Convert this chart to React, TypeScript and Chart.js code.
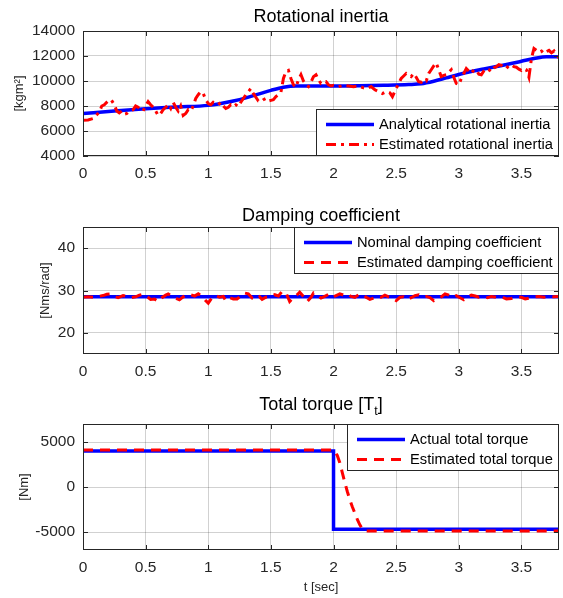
import React, { useEffect, useRef } from "react";
import { Chart, registerables } from "chart.js";

Chart.register(...registerables);

const FONT = "'Liberation Sans', Arial, Helvetica, sans-serif";
const TEXT = "#262626";
const GRID = "rgba(0,0,0,0.18)";
const BLUE = "#0000ff";
const RED = "#ff0000";

// ---- tick labels ----
const xTicks = [0, 0.5, 1, 1.5, 2, 2.5, 3, 3.5];
const inertiaTicks = [4000, 6000, 8000, 10000, 12000, 14000];
const dampingTicks = [20, 30, 40];
const torqueTicks = [-5000, 0, 5000];

// ---- Rotational inertia ----
const inertiaAnalyticalT = [0, 0.25, 0.5, 0.75, 1.0, 1.1, 1.2, 1.3, 1.4, 1.5, 1.6, 1.7, 1.8, 2.0, 2.2, 2.4, 2.6, 2.7, 2.8, 2.9, 3.0, 3.1, 3.2, 3.3, 3.4, 3.5, 3.6, 3.7, 3.8];
const inertiaAnalyticalV = [7400, 7600, 7780, 7920, 8050, 8200, 8400, 8650, 8950, 9250, 9500, 9600, 9600, 9600, 9620, 9660, 9720, 9780, 9980, 10250, 10520, 10760, 10960, 11160, 11360, 11580, 11800, 11950, 11950];

const inertiaEstT = [0.00, 0.04, 0.08, 0.11, 0.13, 0.15, 0.17, 0.20, 0.225, 0.25, 0.27, 0.29, 0.31, 0.33, 0.35, 0.37, 0.40, 0.42, 0.44, 0.46, 0.48, 0.50, 0.52, 0.54, 0.56, 0.58, 0.60, 0.62, 0.64, 0.66, 0.68, 0.70, 0.72, 0.74, 0.76, 0.78, 0.80, 0.82, 0.84, 0.86, 0.88, 0.90, 0.92, 0.94, 0.96, 0.98, 1.00, 1.02, 1.04, 1.06, 1.08, 1.10, 1.12, 1.14, 1.16, 1.18, 1.20, 1.22, 1.24, 1.26, 1.28, 1.30, 1.32, 1.34, 1.36, 1.38, 1.40, 1.42, 1.44, 1.46, 1.48, 1.50, 1.52, 1.54, 1.56, 1.58, 1.60, 1.62, 1.64, 1.66, 1.68, 1.70, 1.72, 1.74, 1.76, 1.78, 1.80, 1.82, 1.84, 1.86, 1.88, 1.90, 1.92, 1.94, 1.96, 1.98, 2.00, 2.04, 2.08, 2.12, 2.16, 2.20, 2.24, 2.27, 2.30, 2.33, 2.36, 2.39, 2.42, 2.45, 2.47, 2.50, 2.52, 2.54, 2.56, 2.58, 2.60, 2.62, 2.64, 2.66, 2.68, 2.70, 2.72, 2.74, 2.76, 2.78, 2.80, 2.82, 2.84, 2.86, 2.88, 2.90, 2.92, 2.94, 2.96, 2.98, 3.00, 3.02, 3.04, 3.06, 3.08, 3.10, 3.12, 3.14, 3.16, 3.18, 3.20, 3.22, 3.24, 3.26, 3.28, 3.30, 3.32, 3.34, 3.36, 3.38, 3.40, 3.42, 3.44, 3.46, 3.48, 3.50, 3.52, 3.54, 3.56, 3.58, 3.60, 3.62, 3.64, 3.66, 3.68, 3.70, 3.72, 3.74, 3.76, 3.78, 3.80];
const inertiaEstV = [6850, 6880, 7000, 7300, 7500, 8000, 8100, 8400, 8500, 8100, 7600, 7450, 7600, 7350, 7400, 7600, 7700, 8000, 7900, 7700, 7600, 8000, 8350, 8100, 7900, 7600, 7250, 7400, 7700, 7900, 8100, 7800, 8300, 7900, 7600, 8000, 7250, 7400, 7700, 7600, 8000, 8600, 8900, 9150, 9000, 8500, 8200, 8100, 8300, 8250, 8100, 8300, 8000, 7800, 7900, 8100, 7950, 8100, 7950, 8300, 8600, 8900, 9150, 9400, 9000, 8700, 8400, 8350, 8500, 8600, 8400, 8450, 8500, 8750, 8900, 9100, 10200, 10750, 10850, 10200, 9700, 9500, 10100, 10500, 10000, 9700, 9550, 9900, 10350, 10500, 10100, 9800, 9900, 9950, 9700, 9600, 9650, 9550, 9650, 9600, 9550, 9600, 9450, 9400, 9550, 9300, 9150, 9000, 9150, 9050, 8750, 9400, 9800, 10200, 10400, 10600, 10450, 10350, 10600, 10300, 9950, 9900, 10100, 10000, 10600, 10900, 11200, 11450, 10900, 10350, 10450, 10500, 10700, 10900, 10300, 9800, 9700, 10200, 10600, 11000, 10800, 10600, 10900, 10850, 10550, 10500, 10800, 11000, 10900, 10750, 11050, 11150, 11300, 11250, 11100, 11000, 11250, 11300, 11150, 11100, 10950, 10850, 11000, 10900, 10300, 11800, 12600, 12450, 12300, 12400, 12200, 12350, 12450, 12250, 12400, 12100, 11850];

// ---- Damping coefficient ----
const dampingNominalT = [0, 3.8];
const dampingNominalV = [28.5, 28.5];
const dampingEstT = [0.00, 0.04, 0.08, 0.12, 0.16, 0.19, 0.22, 0.25, 0.28, 0.32, 0.35, 0.38, 0.42, 0.45, 0.48, 0.51, 0.54, 0.57, 0.60, 0.63, 0.66, 0.68, 0.71, 0.74, 0.77, 0.80, 0.83, 0.86, 0.89, 0.92, 0.95, 0.98, 1.00, 1.03, 1.06, 1.09, 1.12, 1.14, 1.17, 1.20, 1.23, 1.26, 1.29, 1.32, 1.35, 1.38, 1.41, 1.43, 1.46, 1.50, 1.53, 1.56, 1.59, 1.62, 1.65, 1.68, 1.71, 1.73, 1.76, 1.79, 1.82, 1.84, 1.87, 1.90, 1.93, 1.96, 1.99, 2.02, 2.05, 2.08, 2.11, 2.14, 2.17, 2.20, 2.23, 2.26, 2.29, 2.32, 2.35, 2.38, 2.41, 2.44, 2.47, 2.50, 2.53, 2.56, 2.59, 2.62, 2.65, 2.68, 2.71, 2.74, 2.77, 2.80, 2.83, 2.86, 2.89, 2.92, 2.95, 2.98, 3.01, 3.04, 3.07, 3.10, 3.13, 3.16, 3.20, 3.23, 3.26, 3.30, 3.34, 3.38, 3.42, 3.46, 3.50, 3.53, 3.56, 3.60, 3.64, 3.68, 3.72, 3.76, 3.80];
const dampingEstV = [28.4, 28.5, 28.4, 28.6, 28.8, 29.1, 29.2, 28.6, 28.3, 28.8, 28.6, 28.3, 28.5, 28.9, 29.1, 28.6, 27.9, 28.0, 27.4, 28.3, 28.9, 29.2, 28.6, 28.2, 27.8, 28.5, 29.0, 29.0, 28.7, 29.2, 28.6, 27.6, 27.0, 28.3, 28.8, 28.4, 28.6, 27.6, 28.3, 28.0, 28.0, 28.7, 29.4, 29.2, 28.2, 27.8, 28.5, 27.9, 28.4, 28.6, 29.0, 28.7, 29.8, 29.5, 27.4, 28.3, 29.0, 29.6, 28.6, 27.4, 28.4, 29.4, 28.8, 28.2, 28.6, 29.1, 28.4, 28.8, 29.2, 28.9, 29.2, 28.6, 28.4, 29.0, 29.1, 28.4, 27.9, 28.2, 28.6, 28.4, 28.9, 28.5, 28.2, 27.6, 28.4, 28.5, 27.9, 28.3, 28.8, 29.0, 28.5, 28.6, 28.3, 27.6, 28.1, 28.5, 29.2, 28.9, 28.4, 28.8, 28.3, 27.8, 28.5, 28.9, 28.7, 28.4, 28.5, 28.3, 28.6, 28.4, 28.5, 28.0, 28.1, 28.5, 28.4, 28.0, 28.2, 28.5, 28.6, 28.4, 28.6, 28.5, 28.6];

// ---- Total torque ----
const torqueActualT = [0, 2.0, 2.0, 3.8];
const torqueActualV = [4000, 4000, -4700, -4700];
const torqueEstT = [0, 2.0, 2.01, 2.03, 2.05, 2.07, 2.09, 2.11, 2.13, 2.15, 2.17, 2.19, 2.21, 2.23, 2.25, 2.27, 3.8];
const torqueEstV = [4100, 4100, 3950, 3500, 2700, 1600, 500, -500, -1400, -2200, -2900, -3600, -4200, -4650, -4880, -4900, -4900];

const zip = (t: number[], v: number[]) => t.map((x, i) => ({ x, y: v[i] }));

type Seg = { text: string; sub?: boolean };
interface PanelCfg {
  title: Seg[];
  titleBaseline: number;
  legendPos: "top" | "bottom";
}

function makePlugin(p: PanelCfg) {
  return {
    id: "subplotDecor",
    afterDatasetsDraw(chart: any) {
      const { ctx, chartArea: a } = chart;
      const xs = chart.scales.x;
      const ys = chart.scales.y;
      ctx.save();
      // inward ticks
      ctx.strokeStyle = TEXT;
      ctx.lineWidth = 1;
      ctx.setLineDash([]);
      ctx.beginPath();
      xs.ticks.forEach((t: any) => {
        const px = Math.round(xs.getPixelForValue(t.value)) + 0.5;
        ctx.moveTo(px, a.bottom);
        ctx.lineTo(px, a.bottom - 5);
        ctx.moveTo(px, a.top);
        ctx.lineTo(px, a.top + 5);
      });
      ys.ticks.forEach((t: any) => {
        const py = Math.round(ys.getPixelForValue(t.value)) + 0.5;
        ctx.moveTo(a.left, py);
        ctx.lineTo(a.left + 5, py);
        ctx.moveTo(a.right, py);
        ctx.lineTo(a.right - 5, py);
      });
      ctx.stroke();
      // frame
      ctx.strokeRect(a.left + 0.5, a.top + 0.5, a.right - a.left - 1, a.bottom - a.top - 1);

      // legend
      const items = chart.data.datasets.map((d: any) => ({
        label: d.label as string,
        color: d.borderColor as string,
        width: d.borderWidth as number,
        dash: (d.borderDash || []) as number[],
      }));
      ctx.font = `14.7px ${FONT}`;
      const maxW = Math.max(...items.map((i: any) => ctx.measureText(i.label).width));
      const w = Math.round(10 + 48 + 5 + maxW + 6);
      const h = 47;
      const left = a.right - w;
      const top = p.legendPos === "top" ? a.top : a.bottom - h;
      ctx.fillStyle = "#ffffff";
      ctx.fillRect(left, top, w, h);
      ctx.strokeStyle = TEXT;
      ctx.lineWidth = 1;
      ctx.strokeRect(left + 0.5, top + 0.5, w - 1, h - 1);
      items.forEach((it: any, i: number) => {
        const y = top + 15.5 + i * 20;
        ctx.beginPath();
        ctx.setLineDash(it.dash);
        ctx.strokeStyle = it.color;
        ctx.lineWidth = it.width;
        ctx.lineCap = "butt";
        ctx.moveTo(left + 10, y);
        ctx.lineTo(left + 58, y);
        ctx.stroke();
        ctx.setLineDash([]);
        ctx.fillStyle = "#000000";
        ctx.textBaseline = "middle";
        ctx.textAlign = "left";
        ctx.font = `14.7px ${FONT}`;
        ctx.fillText(it.label, left + 63, y + 0.5);
      });
      ctx.restore();
    },
    afterDraw(chart: any) {
      const { ctx, chartArea: a } = chart;
      ctx.save();
      ctx.fillStyle = "#000000";
      ctx.textBaseline = "alphabetic";
      ctx.textAlign = "left";
      const fontFor = (s: Seg) => `${s.sub ? 12.5 : 18}px ${FONT}`;
      let total = 0;
      const widths = p.title.map((s) => {
        ctx.font = fontFor(s);
        const wv = ctx.measureText(s.text).width;
        total += wv;
        return wv;
      });
      let x = (a.left + a.right) / 2 - total / 2;
      p.title.forEach((s, i) => {
        ctx.font = fontFor(s);
        ctx.fillText(s.text, x, p.titleBaseline + (s.sub ? 5 : 0));
        x += widths[i];
      });
      ctx.restore();
    },
  };
}

interface AxisCfg {
  yMin: number;
  yMax: number;
  yTicks: number[];
  yTitle: string;
  yTitleCenter: number;
  padTop: number;
  xHeight: number;
  xTitle?: string;
}

function makeConfig(datasets: any[], ax: AxisCfg, panel: PanelCfg): any {
  const tickFont = { family: FONT, size: 15.5 };
  return {
    type: "line",
    data: { datasets },
    options: {
      responsive: false,
      animation: false,
      devicePixelRatio: 1,
      events: [],
      layout: { padding: { top: ax.padTop, right: 4, left: 0, bottom: 0 } },
      plugins: {
        legend: { display: false },
        tooltip: { enabled: false },
        title: { display: false },
      },
      elements: { point: { radius: 0 } },
      scales: {
        x: {
          type: "linear",
          min: 0,
          max: 3.8,
          afterBuildTicks: (s: any) => {
            s.ticks = xTicks.map((v) => ({ value: v }));
          },
          afterFit: (s: any) => {
            s.height = ax.xHeight;
          },
          grid: { color: GRID, lineWidth: 1, drawTicks: false },
          border: { display: false },
          ticks: {
            color: TEXT,
            font: tickFont,
            padding: 8,
            maxRotation: 0,
            autoSkip: false,
            callback: (v: any) => String(v),
          },
          title: ax.xTitle
            ? {
                display: true,
                text: ax.xTitle,
                color: TEXT,
                font: { family: FONT, size: 13 },
                padding: { top: 0, bottom: 2.5 },
              }
            : { display: false },
        },
        y: {
          type: "linear",
          min: ax.yMin,
          max: ax.yMax,
          afterBuildTicks: (s: any) => {
            s.ticks = ax.yTicks.map((v) => ({ value: v }));
          },
          afterFit: (s: any) => {
            s.width = 83;
          },
          grid: { color: GRID, lineWidth: 1, drawTicks: false },
          border: { display: false },
          ticks: {
            color: TEXT,
            font: tickFont,
            padding: 8,
            autoSkip: false,
            callback: (v: any) => String(v),
          },
          title: {
            display: true,
            text: ax.yTitle,
            color: TEXT,
            font: { family: FONT, size: 13 },
            padding: { top: ax.yTitleCenter - 7.8, bottom: 0 },
          },
        },
      },
    },
    plugins: [makePlugin(panel)],
  };
}

export default function App() {
  const r1 = useRef<HTMLCanvasElement>(null);
  const r2 = useRef<HTMLCanvasElement>(null);
  const r3 = useRef<HTMLCanvasElement>(null);

  useEffect(() => {
    const c1 = new Chart(
      r1.current as HTMLCanvasElement,
      makeConfig(
        [
          {
            label: "Analytical rotational inertia",
            data: zip(inertiaAnalyticalT, inertiaAnalyticalV),
            borderColor: BLUE,
            borderWidth: 3.5,
            cubicInterpolationMode: "monotone",
            pointRadius: 0,
            order: 2,
          },
          {
            label: "Estimated rotational inertia",
            data: zip(inertiaEstT, inertiaEstV),
            borderColor: RED,
            borderWidth: 3,
            borderDash: [10, 5, 3, 5],
            tension: 0,
            pointRadius: 0,
            order: 1,
          },
        ],
        { yMin: 4000, yMax: 14000, yTicks: inertiaTicks, yTitle: "[kgm²]", yTitleCenter: 19, padTop: 31, xHeight: 39 },
        { title: [{ text: "Rotational inertia" }], titleBaseline: 22, legendPos: "bottom" }
      )
    );
    const c2 = new Chart(
      r2.current as HTMLCanvasElement,
      makeConfig(
        [
          {
            label: "Nominal damping coefficient",
            data: zip(dampingNominalT, dampingNominalV),
            borderColor: BLUE,
            borderWidth: 3.5,
            pointRadius: 0,
            order: 2,
          },
          {
            label: "Estimated damping coefficient",
            data: zip(dampingEstT, dampingEstV),
            borderColor: RED,
            borderWidth: 3,
            borderDash: [10, 7],
            tension: 0,
            pointRadius: 0,
            order: 1,
          },
        ],
        { yMin: 15, yMax: 45, yTicks: dampingTicks, yTitle: "[Nms/rad]", yTitleCenter: 45.5, padTop: 32, xHeight: 36 },
        { title: [{ text: "Damping coefficient" }], titleBaseline: 26, legendPos: "top" }
      )
    );
    const c3 = new Chart(
      r3.current as HTMLCanvasElement,
      makeConfig(
        [
          {
            label: "Actual total torque",
            data: zip(torqueActualT, torqueActualV),
            borderColor: BLUE,
            borderWidth: 3.5,
            pointRadius: 0,
            order: 2,
          },
          {
            label: "Estimated total torque",
            data: zip(torqueEstT, torqueEstV),
            borderColor: RED,
            borderWidth: 3,
            borderDash: [10, 7],
            tension: 0,
            pointRadius: 0,
            order: 1,
          },
        ],
        { yMin: -7000, yMax: 7000, yTicks: torqueTicks, yTitle: "[Nm]", yTitleCenter: 24, padTop: 34, xHeight: 48, xTitle: "t [sec]" },
        { title: [{ text: "Total torque [T" }, { text: "t", sub: true }, { text: "]" }], titleBaseline: 20, legendPos: "top" }
      )
    );
    return () => {
      c1.destroy();
      c2.destroy();
      c3.destroy();
    };
  }, []);

  const cs = (top: number, h: number): React.CSSProperties => ({
    position: "absolute",
    left: 0,
    top,
    width: 563,
    height: h,
    display: "block",
  });

  return (
    <div style={{ position: "absolute", left: 0, top: 0, width: 563, height: 598, background: "#ffffff", overflow: "hidden" }}>
      <canvas ref={r1} width={563} height={195} style={cs(0, 195)} />
      <canvas ref={r2} width={563} height={195} style={cs(195, 195)} />
      <canvas ref={r3} width={563} height={208} style={cs(390, 208)} />
    </div>
  );
}
